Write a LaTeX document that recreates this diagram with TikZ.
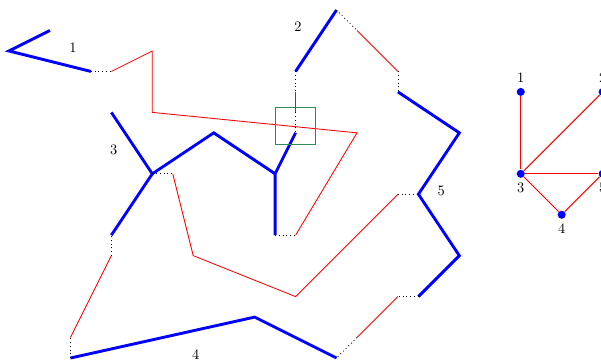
\documentclass[tikz,border=0pt]{standalone}
\begin{document}
\begin{tikzpicture}[x=0.5cm,y=0.5cm,
  tree/.style={blue,line width=2pt,line join=miter},
  redl/.style={red,line width=0.6pt},
  dotl/.style={black,dotted,line width=0.6pt},
  lab/.style={inner sep=0pt,font=\normalsize},
  gnode/.style={circle,fill=blue,inner sep=0pt,minimum size=5.6pt},
  gedge/.style={red,line width=0.7pt}]
\useasboundingbox (-0.44,0.49) rectangle (28.92,-17.1);
% coordinates
\coordinate (a1) at (2,-1);
\coordinate (a2) at (0,-2);
\coordinate (a3) at (4,-3);
\coordinate (a4) at (5,-3);
\coordinate (a5) at (7,-2);
\coordinate (a6) at (7,-5);
\coordinate (a7) at (17,-6);
\coordinate (a8) at (14,-11);
\coordinate (b1) at (13,-11);
\coordinate (b2) at (13,-8);
\coordinate (b3) at (14,-6);
\coordinate (b4) at (10,-6);
\coordinate (b5) at (7,-8);
\coordinate (b6) at (5,-5);
\coordinate (b7) at (5,-11);
\coordinate (b8) at (8,-8);
\coordinate (c1) at (9,-12);
\coordinate (c2) at (14,-14);
\coordinate (c3) at (19,-9);
\coordinate (c4) at (20,-9);
\coordinate (c5) at (22,-6);
\coordinate (c6) at (19,-4);
\coordinate (c7) at (22,-12);
\coordinate (c8) at (20,-14);
\coordinate (d1) at (19,-14);
\coordinate (d2) at (17,-16);
\coordinate (d3) at (16,-17);
\coordinate (d4) at (12,-15);
\coordinate (d5) at (3,-17);
\coordinate (d6) at (3,-16);
\coordinate (d7) at (5,-12);
\coordinate (e1) at (14,-3);
\coordinate (e2) at (16,0);
\coordinate (e3) at (17,-1);
\coordinate (e4) at (19,-3);
\coordinate (e5) at (14,-4);
\coordinate (e6) at (14,-5);
% blue trees
\draw[tree] (a1) -- (a2) -- (a3);
\draw[tree] (b1) -- (b2) -- (b3);
\draw[tree] (b2) -- (b4) -- (b5) -- (b6);
\draw[tree] (b5) -- (b7);
\draw[tree] (c6) -- (c5) -- (c4) -- (c7) -- (c8);
\draw[tree] (d3) -- (d4) -- (d5);
\draw[tree] (e1) -- (e2);
% red paths
\draw[redl] (a4) -- (a5) -- (a6) -- (a7) -- (a8);
\draw[redl] (b8) -- (c1) -- (c2) -- (c3);
\draw[redl] (d1) -- (d2);
\draw[redl] (d6) -- (d7);
\draw[redl] (e3) -- (e4);
\draw[redl] (e5) -- (e6);
% dotted gaps
\draw[dotl] (a3) -- (a4);
\draw[dotl] (b1) -- (a8);
\draw[dotl] (b5) -- (b8);
\draw[dotl] (c3) -- (c4);
\draw[dotl] (c8) -- (d1);
\draw[dotl] (d2) -- (d3);
\draw[dotl] (d5) -- (d6);
\draw[dotl] (d7) -- (b7);
\draw[dotl] (e2) -- (e3);
\draw[dotl] (e4) -- (c6);
\draw[dotl] (e1) -- (e5);
\draw[dotl] (e6) -- (b3);
% green box
\draw[draw={rgb,255:red,46;green,139;blue,87},line width=0.8pt] (13.03,-4.75) rectangle (14.96,-6.56);
% labels
\node[lab] (l1) at (3.12,-1.82) {1};
\node[lab] (l2) at (14.12,-0.82) {2};
\node[lab] (l3) at (5.12,-6.82) {3};
\node[lab] (l4) at (9.12,-16.82) {4};
\node[lab] (l5) at (21.12,-8.82) {5};
% small graph
\node[gnode,label={above:1}] (g1) at (25,-4) {};
\node[gnode,label={above:2}] (g2) at (29,-4) {};
\node[gnode,label={below:3}] (g3) at (25,-8) {};
\node[gnode,label={below:4}] (g4) at (27,-10) {};
\node[gnode,label={below:5}] (g5) at (29,-8) {};
\draw[gedge] (g1) -- (g3);
\draw[gedge] (g3) -- (g2);
\draw[gedge] (g3) -- (g5);
\draw[gedge] (g3) -- (g4);
\draw[gedge] (g4) -- (g5);
\end{tikzpicture}
\end{document}
